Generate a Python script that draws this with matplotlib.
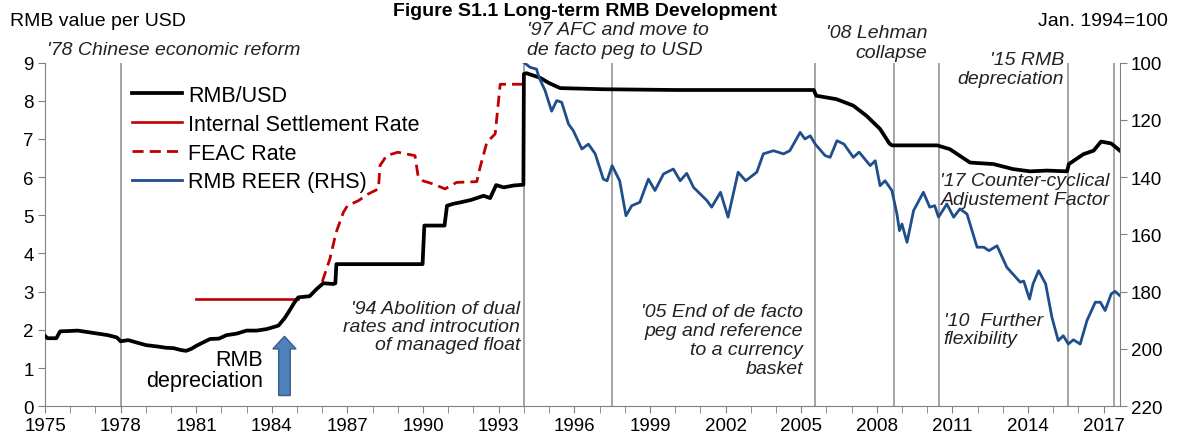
import numpy as np
import matplotlib
matplotlib.use('Agg')
import matplotlib.pyplot as plt
from matplotlib.patches import FancyArrow

plt.rcParams['font.family'] = ['Liberation Sans', 'DejaVu Sans']

# RMB per USD (left axis)
rmb_years = [1975.0, 1975.1, 1975.45, 1975.6, 1976.0, 1976.3, 1976.9, 1977.5, 1977.85, 1978.0,
             1978.3, 1979.0, 1979.5, 1979.8, 1980.1, 1980.4, 1980.6, 1980.8, 1981.0, 1981.3,
             1981.55, 1981.9, 1982.2, 1982.6, 1983.0, 1983.4, 1983.8, 1984.26, 1984.5, 1984.66,
             1984.9, 1985.05, 1985.5, 1985.78, 1986.04, 1986.44, 1986.52, 1986.56, 1989.98, 1990.05,
             1990.85, 1990.95, 1991.2, 1991.5, 1991.9, 1992.4, 1992.66, 1992.9, 1993.2, 1993.6,
             1993.98, 1994.0, 1994.1, 1994.64, 1995.0, 1995.44, 1996.0, 1997.15, 2000.0, 2005.5,
             2005.6, 2006.4, 2007.07, 2007.6, 2008.13, 2008.5, 2008.6, 2010.4, 2010.9, 2011.7,
             2012.63, 2013.4, 2014.08, 2014.75, 2015.55, 2015.62, 2016.2, 2016.6, 2016.9, 2017.3,
             2017.65]
rmb_values = [1.84, 1.78, 1.78, 1.96, 1.97, 1.98, 1.92, 1.86, 1.80, 1.70,
              1.73, 1.60, 1.56, 1.53, 1.52, 1.47, 1.45, 1.50, 1.58, 1.68,
              1.76, 1.77, 1.86, 1.90, 1.98, 1.98, 2.02, 2.11, 2.30, 2.46,
              2.72, 2.85, 2.88, 3.07, 3.22, 3.20, 3.22, 3.72, 3.72, 4.73,
              4.73, 5.25, 5.30, 5.34, 5.40, 5.51, 5.45, 5.79, 5.73, 5.78,
              5.80, 8.70, 8.72, 8.60, 8.46, 8.33, 8.32, 8.30, 8.28, 8.28,
              8.13, 8.04, 7.87, 7.60, 7.26, 6.88, 6.83, 6.83, 6.73, 6.38,
              6.34, 6.21, 6.15, 6.17, 6.15, 6.34, 6.60, 6.69, 6.93, 6.88,
              6.69]

# internal settlement rate
settle_years = [1981.0, 1985.05]
settle_values = [2.8, 2.8]

# FEAC swap market rate
feac_years = [1986.0, 1986.3, 1986.55, 1986.84, 1987.0, 1987.43, 1987.83, 1988.23, 1988.29, 1988.55,
              1989.0, 1989.68, 1989.8, 1990.0, 1990.4, 1990.87, 1991.33, 1992.13, 1992.26, 1992.53,
              1992.86, 1993.06, 1993.92, 1994.0]
feac_values = [3.26, 3.85, 4.55, 5.08, 5.25, 5.38, 5.56, 5.69, 6.30, 6.56,
               6.65, 6.56, 6.03, 5.90, 5.82, 5.69, 5.86, 5.88, 6.25, 6.91,
               7.13, 8.43, 8.43, 8.43]

# REER, Jan 1994 = 100 (right axis, inverted)
reer_years = [1994.0, 1994.25, 1994.5, 1994.6, 1994.84, 1995.1, 1995.3, 1995.5, 1995.77, 1995.96,
              1996.3, 1996.56, 1996.83, 1997.15, 1997.3, 1997.5, 1997.8, 1998.05, 1998.28, 1998.6,
              1998.94, 1999.2, 1999.54, 1999.93, 2000.2, 2000.46, 2000.73, 2001.26, 2001.45, 2001.8,
              2002.1, 2002.5, 2002.8, 2003.24, 2003.5, 2003.9, 2004.3, 2004.55, 2004.96, 2005.15,
              2005.36, 2005.56, 2005.95, 2006.15, 2006.42, 2006.7, 2007.07, 2007.3, 2007.74, 2007.94,
              2008.13, 2008.33, 2008.6, 2008.8, 2008.9, 2009.0, 2009.2, 2009.46, 2009.85, 2010.1,
              2010.3, 2010.45, 2010.78, 2011.05, 2011.3, 2011.58, 2011.98, 2012.25, 2012.45, 2012.77,
              2013.16, 2013.69, 2013.83, 2014.06, 2014.2, 2014.42, 2014.7, 2014.95, 2015.2, 2015.4,
              2015.6, 2015.8, 2016.07, 2016.34, 2016.67, 2016.87, 2017.06, 2017.3, 2017.45, 2017.65]
reer_values = [100.0, 101.7, 102.3, 105.2, 109.8, 117.0, 113.3, 113.9, 121.5, 123.8,
               130.2, 128.5, 131.9, 140.7, 141.3, 136.0, 141.3, 153.5, 150.0, 148.8,
               140.7, 144.7, 138.9, 137.2, 141.3, 138.7, 143.6, 148.2, 150.5, 145.3,
               154.0, 138.3, 141.3, 138.3, 131.9, 130.8, 131.9, 130.8, 124.4, 126.7,
               125.6, 128.5, 132.5, 133.1, 127.3, 128.5, 133.1, 131.3, 136.0, 134.3,
               143.0, 141.3, 144.7, 152.9, 158.7, 156.4, 162.8, 151.7, 145.3, 150.5,
               150.0, 154.0, 149.4, 154.0, 151.1, 152.9, 164.5, 164.5, 165.7, 164.0,
               171.5, 176.7, 176.3, 182.6, 177.3, 172.7, 177.3, 189.0, 197.1, 195.4,
               198.3, 196.8, 198.3, 190.1, 183.7, 183.7, 186.6, 180.8, 179.9, 181.4]

event_years = [1978.0, 1994.0, 1997.5, 2005.55, 2008.7, 2010.45, 2015.6, 2017.4]

fig = plt.figure(figsize=(11.8, 4.35), dpi=100)
ax = fig.add_axes([45 / 1180, 1 - 407.2 / 435, 1075 / 1180, 343.7 / 435])
ax2 = ax.twinx()

spine_col = '#808080'
for e in event_years:
    ax.axvline(e, color='#8c8c8c', lw=1.1, zorder=1)

l1, = ax.plot(rmb_years, rmb_values, color='black', lw=2.7, zorder=4, label='RMB/USD')
l2, = ax.plot(settle_years, settle_values, color='#c00000', lw=1.9, zorder=3,
              label='Internal Settlement Rate')
l3, = ax.plot(feac_years, feac_values, color='#c00000', lw=2.0, ls=(0, (4, 2.2)), zorder=3,
              label='FEAC Rate')
l4, = ax2.plot(reer_years, reer_values, color='#1f4e8c', lw=2.0, zorder=3,
               label='RMB REER (RHS)')

ax.set_xlim(1975, 2017.65)
ax.set_ylim(0, 9)
ax2.set_ylim(220, 100)

ax.set_xticks(np.arange(1975, 2018, 3))
ax.set_xticks(np.arange(1975, 2018, 1), minor=True)
ax.set_yticks(range(0, 10))
ax2.set_yticks(range(100, 221, 20))

for a in (ax, ax2):
    a.spines['top'].set_visible(False)
    for s in ('left', 'right', 'bottom'):
        a.spines[s].set_color(spine_col)
    a.tick_params(which='both', direction='out', length=5, color=spine_col,
                  labelsize=13.5, pad=3)
ax.spines['right'].set_visible(False)
ax2.spines['left'].set_visible(False)
ax2.spines['bottom'].set_visible(False)

arrow = FancyArrow(1984.5, 0.28, 0, 1.55, width=0.46, head_width=0.92, head_length=0.33,
                   length_includes_head=True, facecolor='#4f81bd', edgecolor='#385d8a',
                   lw=1, zorder=5)
ax.add_patch(arrow)

it = dict(style='italic', fontsize=14, color='#222222', linespacing=1.1, zorder=6)
ax.text(1975.08, 9.35, "'78 Chinese economic reform", ha='left', va='center', **it)
ax.text(1994.13, 9.6, "'97 AFC and move to\nde facto peg to USD", ha='left', va='center',
        **dict(it, linespacing=1.25))
ax.text(2010.0, 9.53, "'08 Lehman\ncollapse", ha='right', va='center', multialignment='right',
        **dict(it, linespacing=1.25))
ax.text(2015.44, 8.83, "'15 RMB\ndepreciation", ha='right', va='center', multialignment='right', **it)
ax.text(2017.25, 5.66, "'17 Counter-cyclical\nAdjustement Factor", ha='right', va='center',
        multialignment='right', **it)
ax.text(2010.65, 2.0, "'10  Further\nflexibility", ha='left', va='center', **it)
ax.text(2005.08, 1.73, "'05 End of de facto\npeg and reference\nto a currency\nbasket",
        ha='right', va='center', multialignment='right', **dict(it, linespacing=1.15))
ax.text(1993.85, 2.09, "'94 Abolition of dual\nrates and introcution\nof managed float",
        ha='right', va='center', multialignment='right', **it)
ax.text(1983.66, 0.95, "RMB\ndepreciation", ha='right', va='center', multialignment='right',
        fontsize=15.5, linespacing=1.05, zorder=6)

fig.text(10 / 1180, 1 - 22 / 435, 'RMB value per USD', ha='left', va='center', fontsize=14)
fig.text(1168 / 1180, 1 - 22 / 435, 'Jan. 1994=100', ha='right', va='center', fontsize=14)
fig.text(585 / 1180, 1 - 16 / 435, 'Figure S1.1 Long-term RMB Development', ha='center',
         va='baseline', fontsize=14, fontweight='bold')

leg = ax2.legend(handles=[l1, l2, l3, l4], loc='upper left',
                 bbox_to_anchor=((132 - 45) / 1075, 1 - (86 - 63.5) / 343.7),
                 frameon=False, fontsize=15.5, handlelength=2.3, handletextpad=0.3,
                 labelspacing=0.36, borderaxespad=0, borderpad=0)
leg.set_zorder(10)

fig.savefig('out.png', dpi=100)
